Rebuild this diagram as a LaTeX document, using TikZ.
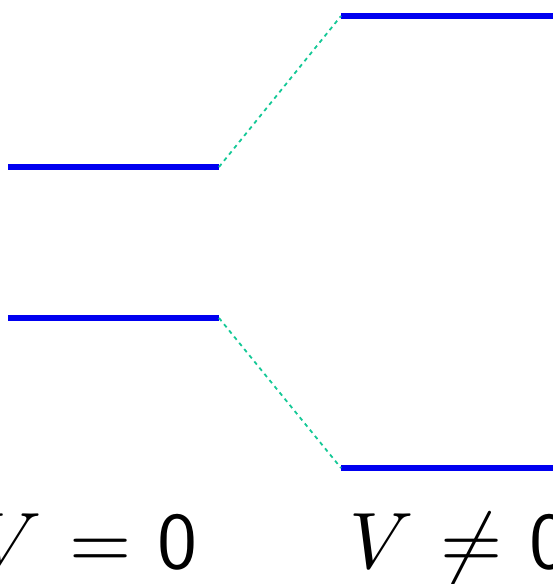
\documentclass[tikz,border=0pt]{standalone}
\usetikzlibrary{positioning}
\definecolor{LevelBlue}{HTML}{0000F0}
\definecolor{LinkTeal}{HTML}{14C896}
\tikzset{level/.style={line width=5.5pt,LevelBlue},
  tie/.style={LinkTeal,line width=1.8pt,dash pattern=on 4pt off 4pt},
  vlabel/.style={inner sep=0pt,anchor=base,scale=8}}
\begin{document}
\begin{tikzpicture}[x=1pt,y=-1pt]
\useasboundingbox (0,0) rectangle (553,584);
% unperturbed levels
\coordinate (a1) at (8,167); \coordinate (a2) at (219,167);
\coordinate (b1) at (8,318); \coordinate (b2) at (219,318);
% split levels
\coordinate (c1) at (341,16); \coordinate (c2) at (560,16);
\coordinate (d1) at (341,468); \coordinate (d2) at (560,468);
\draw[level] (a1)--(a2); \draw[level] (b1)--(b2);
\draw[level] (c1)--(c2); \draw[level] (d1)--(d2);
\draw[tie] (a2)--(c1); \draw[tie] (b2)--(d1);
% labels
\node[vlabel] (free) at (88,568) {$V\mkern1mu=\mkern1mu\mathsf{0}$};
\node[vlabel] (pert) at (459,568) {$V\mkern1mu\neq\mkern1mu\mathsf{0}$};
\end{tikzpicture}
\end{document}
